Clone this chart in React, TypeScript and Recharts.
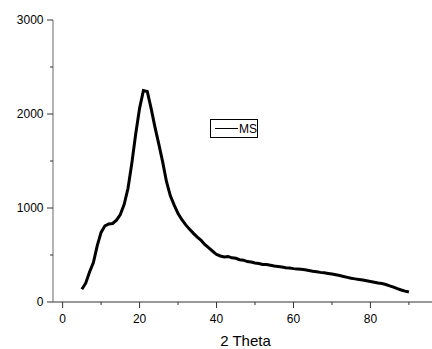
import { LineChart, Line, XAxis, YAxis, Legend, Label } from "recharts";

const twoTheta = [
  5, 6, 7, 8, 9, 10, 11, 12, 13, 14, 15, 16, 17, 18, 19, 20, 21, 22, 23, 24,
  25, 26, 27, 28, 29, 30, 31, 32, 33, 34, 35, 36, 37, 38, 39, 40, 41, 42, 43,
  44, 45, 46, 47, 48, 49, 50, 51, 52, 53, 54, 55, 56, 57, 58, 59, 60, 61, 62,
  63, 64, 65, 66, 67, 68, 69, 70, 71, 72, 73, 74, 75, 76, 77, 78, 79, 80, 81,
  82, 83, 84, 85, 86, 87, 88, 89, 90,
];
const msCounts = [
  135, 200, 320, 420, 600, 740, 810, 830, 835, 870, 930, 1040, 1210, 1480,
  1790, 2060, 2250, 2240, 2060, 1860, 1680, 1490, 1280, 1130, 1030, 940, 875,
  820, 775, 730, 690, 655, 610, 575, 540, 505, 490, 480, 485, 470, 465, 450,
  445, 430, 425, 415, 410, 400, 398, 390, 382, 378, 372, 365, 362, 355, 352,
  348, 342, 335, 328, 322, 315, 310, 304, 298, 290, 282, 272, 262, 252, 246,
  240, 234, 226, 218, 210, 202, 196, 186, 172, 158, 142, 128, 116, 106,
];

const xTicks = [0, 10, 20, 30, 40, 50, 60, 70, 80, 90];
const yTicks = [0, 500, 1000, 1500, 2000, 2500, 3000];

const data = twoTheta.map((t, i) => ({ theta: t, MS: msCounts[i] }));

const FONT = "'Liberation Sans', Arial, sans-serif";

const XTick = ({ x, y, payload }: any) => {
  const major = payload.value % 20 === 0;
  return (
    <g>
      <line x1={x} x2={x} y1={y} y2={y + (major ? 6 : 3)} stroke="#333" />
      {major && (
        <text x={x} y={y + 20.5} textAnchor="middle" fontSize={12} fill="#000" fontFamily={FONT}>
          {payload.value}
        </text>
      )}
    </g>
  );
};

const YTick = ({ x, y, payload }: any) => {
  const major = payload.value % 1000 === 0;
  return (
    <g>
      <line x1={x} x2={x - (major ? 6 : 3)} y1={y} y2={y} stroke="#333" />
      {major && (
        <text x={x - 9.5} y={y + 4} textAnchor="end" fontSize={12} fill="#000" fontFamily={FONT}>
          {payload.value}
        </text>
      )}
    </g>
  );
};

const renderLegend = () => (
  <div
    style={{
      border: "1px solid #000",
      width: 46,
      height: 17,
      display: "flex",
      alignItems: "center",
      fontFamily: FONT,
      fontSize: 12,
      background: "#fff",
    }}
  >
    <span style={{ display: "inline-block", width: 35, borderTop: "1px solid #000", marginLeft: 4 }} />
    <span style={{ marginLeft: 1 }}>MS</span>
  </div>
);

export default function App() {
  return (
    <div style={{ position: "absolute", left: 0, top: 0, background: "#fff" }}>
      <LineChart width={432} height={349} data={data} margin={{ top: 20, right: 0, bottom: 0, left: 0 }}>
        <XAxis
          dataKey="theta"
          type="number"
          domain={[-2.5, 96]}
          ticks={xTicks}
          allowDataOverflow
          stroke="#333"
          tickLine={false}
          tickSize={0}
          tickMargin={0}
          tick={<XTick />}
          height={47}
        >
          <Label
            value="2 Theta"
            position="insideBottom"
            offset={3}
            dx={3}
            style={{ fontSize: 15, fill: "#000", fontFamily: FONT }}
          />
        </XAxis>
        <YAxis
          type="number"
          domain={[0, 3000]}
          ticks={yTicks}
          stroke="#666"
          tickLine={false}
          tickSize={0}
          tickMargin={0}
          tick={<YTick />}
          width={53}
        />
        <Legend
          layout="horizontal"
          verticalAlign="middle"
          content={renderLegend}
          wrapperStyle={{ left: 210, top: 119, width: "auto" }}
        />
        <Line
          type="linear"
          dataKey="MS"
          stroke="#000"
          strokeWidth={3}
          dot={false}
          isAnimationActive={false}
        />
      </LineChart>
    </div>
  );
}
